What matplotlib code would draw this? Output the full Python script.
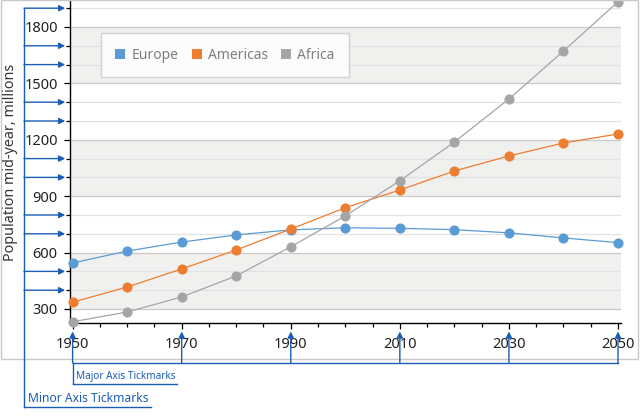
import matplotlib
matplotlib.use('Agg')
import matplotlib.pyplot as plt
from matplotlib.lines import Line2D
from matplotlib.patches import Rectangle
from matplotlib.ticker import FixedLocator, MultipleLocator

# ---------------- data ----------------
years = [1950, 1960, 1970, 1980, 1990, 2000, 2010, 2020, 2030, 2040, 2050]
europe = [545, 608, 656, 694, 721, 732, 729, 722, 705, 678, 653]
americas = [336, 417, 513, 614, 725, 839, 933, 1034, 1114, 1183, 1231]
africa = [232, 284, 364, 476, 631, 795, 982, 1188, 1417, 1672, 1934]
series_names = ['Europe', 'Americas', 'Africa']
x_major_ticks = [1950, 1970, 1990, 2010, 2030, 2050]
y_major_ticks = [300, 600, 900, 1200, 1500, 1800]
y_label = 'Population mid-year, millions'
major_note = 'Major Axis Tickmarks'
minor_note = 'Minor Axis Tickmarks'

colors = ['#5b9bd5', '#ed7d31', '#a5a5a5']
blue = '#1a5db5'

plt.rcParams['font.family'] = ['Noto Sans', 'DejaVu Sans']

W, H = 640, 420
fig = plt.figure(figsize=(6.4, 4.2), dpi=100)
fig.patch.set_facecolor('white')

# plot area in pixels
left, right, top, bottom = 69.5, 621, 0, 323
ax = fig.add_axes([left / W, 1 - bottom / H, (right - left) / W, (bottom - top) / H])
ax.set_xlim(1949.43, 2050.55)
ax.set_ylim(225.5, 1943.6)
ax.set_facecolor('white')

# alternating bands
for lo in y_major_ticks[0::2]:
    ax.axhspan(lo, lo + 300, color='#f0f1ef', zorder=0, lw=0)

ax.yaxis.set_major_locator(FixedLocator(y_major_ticks))
ax.yaxis.set_minor_locator(MultipleLocator(100))
ax.xaxis.set_major_locator(FixedLocator(x_major_ticks))
ax.xaxis.set_minor_locator(MultipleLocator(5))

ax.grid(axis='y', which='minor', color='#e2e2e2', lw=0.9, zorder=0.5)
ax.grid(axis='y', which='major', color='#c8c8c8', lw=0.9, zorder=0.6)
ax.set_axisbelow(True)

for s in ['top', 'right']:
    ax.spines[s].set_visible(False)
for s in ['left', 'bottom']:
    ax.spines[s].set_color('black')
    ax.spines[s].set_linewidth(1.0)

ax.tick_params(which='major', direction='out', length=4.5, width=0.9, color='black',
               labelsize=10.5, labelcolor='#222222')
ax.tick_params(axis='x', which='major', pad=5.5)
ax.tick_params(axis='y', which='major', pad=4)
ax.tick_params(which='minor', direction='out', length=3.0, width=0.9, color='black')

for vals, name, c in zip([europe, americas, africa], series_names, colors):
    ax.plot(years, vals, color=c, lw=0.9, marker='o', markersize=7.3,
            markeredgewidth=0, label=name, zorder=3, clip_on=False)

handles = [Line2D([], [], ls='none', marker='s', markersize=7, color=c,
                  markeredgewidth=0) for c in colors]
leg = ax.legend(handles, series_names, ncol=3, loc='upper left',
                bbox_to_anchor=((101 - left) / (right - left), (bottom - 33) / (bottom - top)),
                frameon=True, fancybox=False, fontsize=10, labelcolor='#7f7f7f',
                handlelength=0.7, handletextpad=0.45, columnspacing=0.95,
                borderpad=1.05, borderaxespad=0)
leg.get_frame().set_edgecolor('#c8c8c8')
leg.get_frame().set_linewidth(1.0)
leg.set_zorder(5)

# ---------------- overlay annotations (pixel coords) ----------------
ov = fig.add_axes([0, 0, 1, 1], zorder=10)
ov.set_xlim(0, W)
ov.set_ylim(H, 0)
ov.axis('off')
ov.patch.set_alpha(0)

ov.add_patch(Rectangle((1, 0), 637, 359, fill=False, edgecolor='#c8c8c8', lw=1.0))

ov.text(11, 162, y_label, rotation=90, ha='center', va='center',
        fontsize=10.3, color='#333333')


def to_px(x, y):
    d = ax.transData.transform((x, y))
    return d[0], H - d[1]


xmin = ax.get_xlim()[0]
ymin = ax.get_ylim()[0]
arrow_kw = dict(arrowstyle='-|>', color=blue, lw=1.0, mutation_scale=9,
                shrinkA=0, shrinkB=0)

# minor y ticks
minor_vals = [v for v in ax.yaxis.get_minorticklocs() if ax.get_ylim()[0] <= v <= ax.get_ylim()[1]]
spine_x = to_px(xmin, 0)[0]
ys = []
for v in minor_vals:
    y = to_px(xmin, v)[1]
    ys.append(y)
    ov.annotate('', xy=(spine_x - 4.3, y), xytext=(24, y), arrowprops=arrow_kw)
ov.plot([24, 24], [min(ys), 407], color=blue, lw=1.0)
ov.plot([24, 151], [407, 407], color=blue, lw=1.0)
ov.text(28, 405, minor_note, fontsize=8.7, color=blue, ha='left', va='bottom')

# major x ticks
spine_y = to_px(xmin, ymin)[1]
xs = []
for t in x_major_ticks:
    x = to_px(t, ymin)[0]
    xs.append(x)
    ov.annotate('', xy=(x, spine_y + 8.5), xytext=(x, 363), arrowprops=arrow_kw)
ov.plot([xs[0], xs[-1]], [363, 363], color=blue, lw=1.0)
ov.plot([xs[0], xs[0]], [363, 384], color=blue, lw=1.0)
ov.plot([xs[0], 177], [384, 384], color=blue, lw=1.0)
ov.text(76, 382, major_note, fontsize=7.2, color=blue, ha='left', va='bottom')

fig.savefig('out.png', dpi=100)
